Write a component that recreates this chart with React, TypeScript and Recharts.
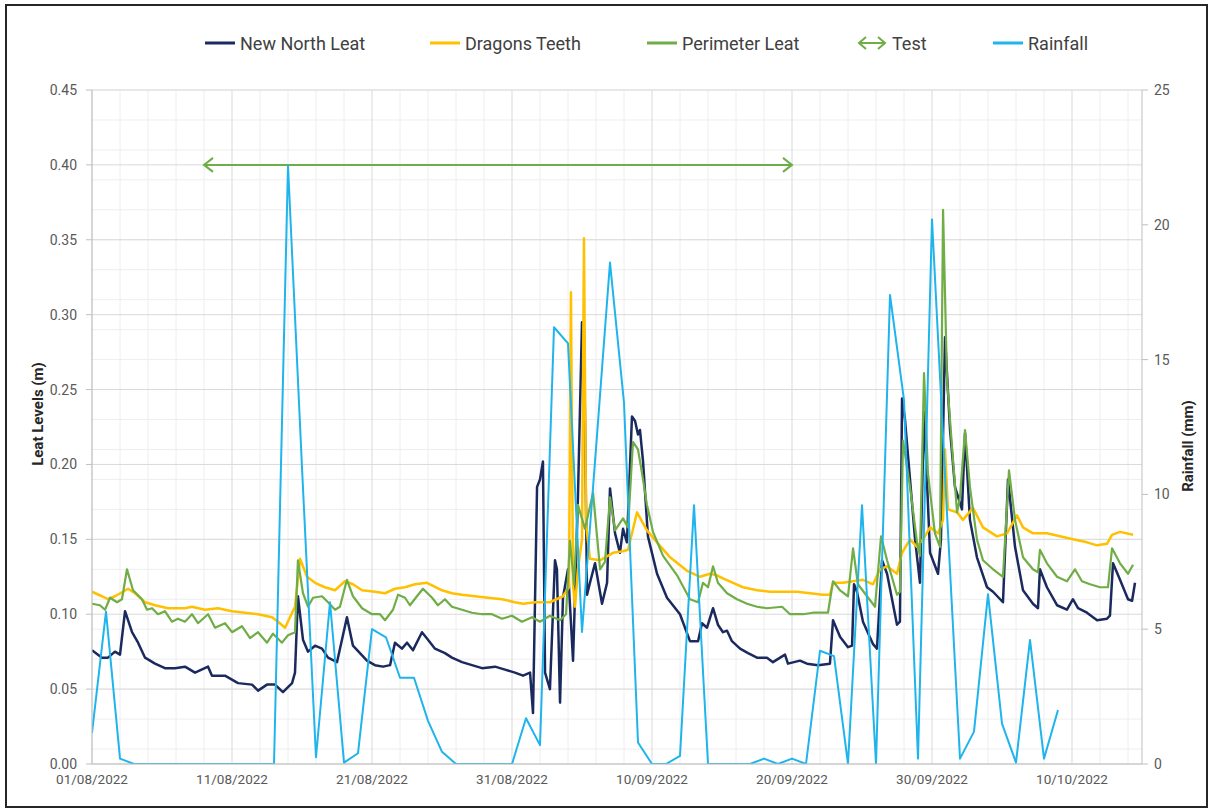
import React from 'react';
import { LineChart, Line, XAxis, YAxis, CartesianGrid } from 'recharts';

// x values are days since 01/08/2022
const TICK_DAYS = [0, 10, 20, 30, 40, 50, 60, 70];
const TICK_LABELS = ['01/08/2022', '11/08/2022', '21/08/2022', '31/08/2022', '10/09/2022', '20/09/2022', '30/09/2022', '10/10/2022'];
const LEVEL_TICKS = [0, 0.05, 0.1, 0.15, 0.2, 0.25, 0.3, 0.35, 0.4, 0.45];
const RAIN_TICKS = [0, 5, 10, 15, 20, 25];

const NEW_NORTH_LEAT: [number, number][] = [
  [0, 0.076], [0.71, 0.071], [1.14, 0.071], [1.64, 0.075], [2, 0.073], [2.36, 0.102], [2.86, 0.088], [3.29, 0.081],
  [3.79, 0.071], [4.5, 0.067], [5.21, 0.064], [5.93, 0.064], [6.64, 0.065], [7.36, 0.061], [8.29, 0.065], [8.57, 0.059],
  [9.5, 0.059], [10.43, 0.054], [11.43, 0.053], [11.86, 0.049], [12.5, 0.053], [13.07, 0.053], [13.64, 0.048], [14.29, 0.054],
  [14.5, 0.061], [14.71, 0.112], [15.07, 0.083], [15.43, 0.075], [15.93, 0.079], [16.43, 0.077], [16.86, 0.071], [17.5, 0.068],
  [18.21, 0.098], [18.64, 0.079], [19.14, 0.074], [19.64, 0.069], [20.21, 0.066], [20.79, 0.065], [21.29, 0.066], [21.64, 0.081],
  [22.14, 0.077], [22.5, 0.081], [22.93, 0.076], [23.57, 0.088], [24, 0.083], [24.5, 0.077], [25.21, 0.074], [25.71, 0.071],
  [26.43, 0.068], [27.14, 0.066], [27.86, 0.064], [28.79, 0.065], [29.5, 0.063], [30.21, 0.061], [30.79, 0.059], [31.29, 0.061],
  [31.5, 0.034], [31.79, 0.185], [32, 0.19], [32.21, 0.202], [32.36, 0.061], [32.71, 0.05], [33.07, 0.136], [33.21, 0.13],
  [33.43, 0.041], [33.64, 0.111], [34, 0.13], [34.36, 0.069], [34.71, 0.178], [35, 0.295], [35.14, 0.29], [35.36, 0.113],
  [35.57, 0.121], [35.93, 0.134], [36.43, 0.107], [36.79, 0.121], [37, 0.184], [37.36, 0.154], [37.71, 0.141], [37.93, 0.157],
  [38.21, 0.148], [38.57, 0.232], [38.79, 0.229], [39, 0.22], [39.14, 0.223], [39.36, 0.202], [39.71, 0.152], [40.36, 0.127],
  [41.07, 0.111], [42, 0.1], [42.71, 0.082], [43.29, 0.082], [43.57, 0.094], [43.93, 0.091], [44.36, 0.104], [44.71, 0.093],
  [45.07, 0.088], [45.36, 0.089], [45.71, 0.082], [46.29, 0.077], [46.86, 0.074], [47.5, 0.071], [48.21, 0.071], [48.64, 0.068],
  [49.5, 0.073], [49.71, 0.067], [50.57, 0.069], [51.07, 0.067], [51.86, 0.066], [52.71, 0.067], [52.93, 0.096], [53.43, 0.085],
  [54, 0.078], [54.29, 0.079], [54.43, 0.12], [54.64, 0.115], [55.07, 0.095], [55.79, 0.08], [56.07, 0.077], [56.43, 0.136],
  [56.79, 0.127], [57.5, 0.093], [57.71, 0.095], [57.86, 0.244], [58.07, 0.23], [58.43, 0.19], [58.79, 0.15], [59.14, 0.121],
  [59.43, 0.235], [59.86, 0.141], [60.43, 0.127], [60.64, 0.15], [60.93, 0.285], [61.29, 0.223], [61.64, 0.185], [62.14, 0.17],
  [62.36, 0.221], [62.71, 0.163], [63.21, 0.138], [63.93, 0.118], [64.36, 0.115], [65.07, 0.108], [65.43, 0.19], [65.93, 0.145],
  [66.5, 0.116], [67.21, 0.107], [67.57, 0.104], [67.71, 0.13], [68.21, 0.118], [68.93, 0.106], [69.64, 0.103], [70.07, 0.11],
  [70.43, 0.104], [71.07, 0.101], [71.79, 0.096], [72.5, 0.097], [72.71, 0.099], [72.93, 0.134], [73.43, 0.123], [74, 0.11],
  [74.29, 0.109], [74.5, 0.121],
];

const DRAGONS_TEETH: [number, number][] = [
  [0, 0.115], [0.71, 0.112], [1.14, 0.11], [1.64, 0.112], [2.21, 0.115], [2.57, 0.117], [3.07, 0.114], [3.79, 0.108],
  [4.5, 0.106], [5.43, 0.104], [6.64, 0.104], [7.14, 0.105], [8.07, 0.103], [9, 0.104], [10, 0.102], [10.93, 0.101],
  [11.86, 0.1], [12.86, 0.098], [13.29, 0.095], [13.79, 0.091], [14.14, 0.098], [14.5, 0.105], [14.86, 0.137], [15.36, 0.125],
  [15.93, 0.121], [16.64, 0.118], [17.36, 0.116], [18.07, 0.122], [18.64, 0.12], [19.29, 0.116], [20.21, 0.115], [20.93, 0.114],
  [21.64, 0.117], [22.36, 0.118], [23.07, 0.12], [23.93, 0.121], [25, 0.116], [25.71, 0.114], [26.43, 0.113], [27.36, 0.112],
  [28.29, 0.111], [29.29, 0.11], [30.21, 0.108], [30.79, 0.107], [31.64, 0.108], [32.71, 0.108], [33.64, 0.112], [34.07, 0.118],
  [34.21, 0.315], [34.36, 0.12], [34.5, 0.105], [34.71, 0.13], [35, 0.15], [35.14, 0.351], [35.29, 0.16], [35.57, 0.137],
  [36.29, 0.136], [37.21, 0.141], [37.93, 0.142], [38.29, 0.143], [38.93, 0.168], [39.64, 0.156], [40.36, 0.148], [41.29, 0.138],
  [42.5, 0.129], [43.43, 0.125], [44.14, 0.127], [44.64, 0.126], [45.07, 0.124], [45.79, 0.121], [46.5, 0.118], [47.5, 0.116],
  [48.43, 0.115], [49.36, 0.115], [50.36, 0.115], [51.29, 0.114], [52.21, 0.113], [52.71, 0.113], [52.93, 0.121], [53.64, 0.121],
  [54.36, 0.122], [55.07, 0.123], [55.79, 0.12], [56.29, 0.13], [56.79, 0.132], [57.5, 0.127], [57.86, 0.141], [58.43, 0.15],
  [58.93, 0.145], [59.36, 0.15], [59.86, 0.158], [60.43, 0.154], [60.79, 0.163], [60.93, 0.21], [61.14, 0.17], [61.79, 0.168],
  [62.21, 0.163], [62.93, 0.171], [63.64, 0.158], [64.64, 0.152], [65.36, 0.154], [66.07, 0.166], [66.5, 0.158], [67.21, 0.154],
  [68.21, 0.154], [69.14, 0.152], [70.07, 0.15], [71.07, 0.148], [71.79, 0.146], [72.5, 0.147], [72.86, 0.153], [73.43, 0.155],
  [74.36, 0.153],
];

const PERIMETER_LEAT: [number, number][] = [
  [0, 0.107], [0.57, 0.106], [0.93, 0.103], [1.29, 0.111], [1.79, 0.108], [2.14, 0.11], [2.5, 0.13], [2.93, 0.116],
  [3.57, 0.11], [3.93, 0.103], [4.29, 0.104], [4.71, 0.1], [5.21, 0.102], [5.71, 0.095], [6.14, 0.097], [6.64, 0.095],
  [7.14, 0.1], [7.57, 0.094], [8.29, 0.1], [8.79, 0.091], [9.5, 0.094], [10, 0.088], [10.71, 0.092], [11.29, 0.084],
  [11.86, 0.088], [12.5, 0.081], [12.93, 0.087], [13.57, 0.081], [14, 0.086], [14.5, 0.088], [14.71, 0.136], [15.07, 0.114],
  [15.43, 0.105], [15.79, 0.111], [16.43, 0.112], [16.86, 0.108], [17.36, 0.103], [17.71, 0.105], [18.21, 0.123], [18.64, 0.112],
  [19.29, 0.104], [20, 0.1], [20.57, 0.1], [20.93, 0.096], [21.5, 0.103], [21.86, 0.113], [22.36, 0.111], [22.71, 0.106],
  [23.21, 0.112], [23.64, 0.117], [24.29, 0.111], [24.71, 0.106], [25.21, 0.11], [25.71, 0.105], [26.43, 0.103], [27.14, 0.101],
  [27.86, 0.1], [28.57, 0.1], [29.29, 0.097], [30, 0.099], [30.71, 0.095], [31.43, 0.098], [32, 0.095], [32.71, 0.099],
  [33.43, 0.096], [33.86, 0.1], [34.14, 0.149], [34.43, 0.12], [34.71, 0.173], [35.21, 0.157], [35.79, 0.181], [36.29, 0.13],
  [36.64, 0.135], [37, 0.178], [37.36, 0.156], [37.93, 0.164], [38.29, 0.158], [38.64, 0.215], [39, 0.21], [39.29, 0.194],
  [39.64, 0.173], [40.07, 0.155], [40.79, 0.139], [41.79, 0.126], [42.71, 0.11], [43.29, 0.108], [43.64, 0.121], [44, 0.118],
  [44.36, 0.132], [44.71, 0.121], [45.36, 0.114], [46.07, 0.11], [46.79, 0.107], [47.5, 0.105], [48.21, 0.104], [49.29, 0.105],
  [49.86, 0.1], [50.79, 0.1], [51.5, 0.101], [52.57, 0.101], [52.93, 0.122], [53.43, 0.116], [54, 0.112], [54.36, 0.144],
  [54.71, 0.12], [55.36, 0.112], [55.93, 0.105], [56.36, 0.152], [56.79, 0.136], [57.5, 0.113], [57.71, 0.115], [57.93, 0.216],
  [58.43, 0.185], [58.93, 0.148], [59.14, 0.139], [59.43, 0.261], [59.71, 0.194], [60.21, 0.154], [60.57, 0.145], [60.79, 0.37],
  [61.07, 0.257], [61.43, 0.212], [61.79, 0.168], [62, 0.178], [62.36, 0.223], [62.71, 0.185], [63.21, 0.15], [63.64, 0.136],
  [64.36, 0.13], [65.07, 0.125], [65.5, 0.196], [65.93, 0.163], [66.5, 0.138], [67.21, 0.13], [67.57, 0.128], [67.71, 0.143],
  [68.21, 0.134], [68.93, 0.125], [69.64, 0.122], [70.21, 0.13], [70.71, 0.122], [71.29, 0.12], [72, 0.118], [72.57, 0.118],
  [72.86, 0.144], [73.43, 0.134], [74, 0.127], [74.36, 0.133],
];

// daily rainfall (mm), one value per day from 01/08/2022
const RAINFALL_MM = [
  1.15, 5.65, 0.2, 0, 0, 0, 0, 0, 0, 0, 0, 0, 0, 0, 22.2, 11, 0.25, 6.0, 0.05, 0.4,
  5.0, 4.7, 3.2, 3.2, 1.6, 0.45, 0, 0, 0, 0, 0, 1.7, 0.7, 16.2, 15.6, 4.9, 11.7, 18.6, 13.4, 0.8,
  0, 0, 0.3, 9.6, 0, 0, 0, 0, 0.2, 0, 0.2, 0, 4.2, 4.0, 0, 9.6, 0, 17.4, 13.5, 0.2,
  20.2, 10, 0.2, 1.2, 6.3, 1.5, 0.05, 4.6, 0.2, 2.0,
];

const TEST_DAYS = [8, 50];
const TEST_LEVEL = 0.4;

const NAVY = '#1b2a5e';
const YELLOW = '#ffc000';
const GREEN = '#70ad47';
const BLUE = '#1fb4ec';

const MINOR_DAYS = Array.from({ length: 38 }, (_, i) => i * 2);
const MINOR_LEVELS = Array.from({ length: 46 }, (_, i) => +(i * 0.01).toFixed(2));

const toPoints = (pairs: [number, number][]) => pairs.map(([t, v]) => ({ t, v }));

const ArrowHead = (props: any) => {
  const { cx, cy, index } = props;
  const s = index === 0 ? 1 : -1;
  return (
    <path
      key={`arrow-${index}`}
      d={`M${cx + s * 9},${cy - 7} L${cx},${cy} L${cx + s * 9},${cy + 7}`}
      fill="none"
      stroke={GREEN}
      strokeWidth={2}
    />
  );
};

function LegendItem({ left, color, label, arrow }: { left: number; color: string; label: string; arrow?: boolean }) {
  return (
    <div style={{ position: 'absolute', left, top: 32, height: 22, display: 'flex', alignItems: 'center', whiteSpace: 'nowrap' }}>
      <svg width={30} height={14} style={{ marginRight: 5 }}>
        {arrow ? (
          <g fill="none" stroke={color} strokeWidth={2}>
            <line x1={2} y1={7} x2={28} y2={7} />
            <path d="M9,1 L2,7 L9,13" />
            <path d="M21,1 L28,7 L21,13" />
          </g>
        ) : (
          <line x1={0} y1={7} x2={30} y2={7} stroke={color} strokeWidth={3} />
        )}
      </svg>
      <span style={{ fontSize: 18, color: '#404040' }}>{label}</span>
    </div>
  );
}

export default function App() {
  const nnl = toPoints(NEW_NORTH_LEAT);
  const dt = toPoints(DRAGONS_TEETH);
  const pl = toPoints(PERIMETER_LEAT);
  const rain = RAINFALL_MM.map((mm, i) => ({ t: i, mm }));
  const test = TEST_DAYS.map((t) => ({ t, v: TEST_LEVEL }));

  return (
    <div
      style={{
        position: 'absolute',
        left: 0,
        top: 0,
        width: 1211,
        height: 811,
        background: '#fff',
        fontFamily: 'Roboto, "Open Sans", sans-serif',
      }}
    >
      <LineChart width={1211} height={811} margin={{ top: 90, right: 0, bottom: 0, left: 0 }}>
        <CartesianGrid xAxisId="x" yAxisId="lvl" verticalValues={MINOR_DAYS} horizontalValues={MINOR_LEVELS} stroke="#eeeeee" />
        <CartesianGrid xAxisId="x" yAxisId="lvl" verticalValues={TICK_DAYS} horizontalValues={LEVEL_TICKS} stroke="#d9d9d9" />
        <XAxis
          xAxisId="x"
          type="number"
          dataKey="t"
          domain={[0, 75]}
          ticks={TICK_DAYS}
          allowDataOverflow
          tickFormatter={(d: number) => TICK_LABELS[TICK_DAYS.indexOf(d)] ?? ''}
          height={47}
          axisLine={{ stroke: '#bfbfbf' }}
          tickLine={false}
          tickSize={5}
          tickMargin={5}
          tick={{ fontSize: 13.5, fill: '#595959' }}
        />
        <YAxis
          yAxisId="lvl"
          orientation="left"
          width={92}
          domain={[0, 0.45]}
          ticks={LEVEL_TICKS}
          allowDataOverflow
          tickFormatter={(v: number) => v.toFixed(2)}
          axisLine={{ stroke: '#bfbfbf' }}
          tickLine={{ stroke: '#bfbfbf' }}
          tickSize={6}
          tickMargin={9}
          tick={{ fontSize: 14, fill: '#595959' }}
        />
        <YAxis
          yAxisId="rain"
          orientation="right"
          width={69}
          domain={[0, 25]}
          ticks={RAIN_TICKS}
          allowDataOverflow
          axisLine={{ stroke: '#bfbfbf' }}
          tickLine={{ stroke: '#bfbfbf' }}
          tickSize={6}
          tickMargin={6}
          tick={{ fontSize: 14, fill: '#595959' }}
        />
        <Line xAxisId="x" yAxisId="lvl" data={nnl} dataKey="v" name="New North Leat" type="linear" stroke={NAVY} strokeWidth={2.5} dot={false} strokeLinejoin="round" isAnimationActive={false} />
        <Line xAxisId="x" yAxisId="lvl" data={dt} dataKey="v" name="Dragons Teeth" type="linear" stroke={YELLOW} strokeWidth={2.5} dot={false} strokeLinejoin="round" isAnimationActive={false} />
        <Line xAxisId="x" yAxisId="lvl" data={pl} dataKey="v" name="Perimeter Leat" type="linear" stroke={GREEN} strokeWidth={2.2} dot={false} strokeLinejoin="round" isAnimationActive={false} />
        <Line xAxisId="x" yAxisId="lvl" data={test} dataKey="v" name="Test" type="linear" stroke={GREEN} strokeWidth={2} dot={ArrowHead} isAnimationActive={false} />
        <Line xAxisId="x" yAxisId="rain" data={rain} dataKey="mm" name="Rainfall" type="linear" stroke={BLUE} strokeWidth={2} dot={false} strokeLinejoin="round" isAnimationActive={false} />
      </LineChart>

      <LegendItem left={205} color={NAVY} label="New North Leat" />
      <LegendItem left={430} color={YELLOW} label="Dragons Teeth" />
      <LegendItem left={647} color={GREEN} label="Perimeter Leat" />
      <LegendItem left={857} color={GREEN} label="Test" arrow />
      <LegendItem left={993} color={BLUE} label="Rainfall" />

      <div style={{ position: 'absolute', left: 38, top: 414, transform: 'translate(-50%, -50%) rotate(-90deg)', whiteSpace: 'nowrap', fontSize: 15, fontWeight: 700, color: '#262626' }}>
        Leat Levels (m)
      </div>
      <div style={{ position: 'absolute', left: 1188, top: 446, transform: 'translate(-50%, -50%) rotate(-90deg)', whiteSpace: 'nowrap', fontSize: 15, fontWeight: 700, color: '#262626' }}>
        Rainfall (mm)
      </div>

      <div style={{ position: 'absolute', left: 5, top: 4, width: 1199, height: 800, border: '2px solid #262626', pointerEvents: 'none' }} />
    </div>
  );
}
